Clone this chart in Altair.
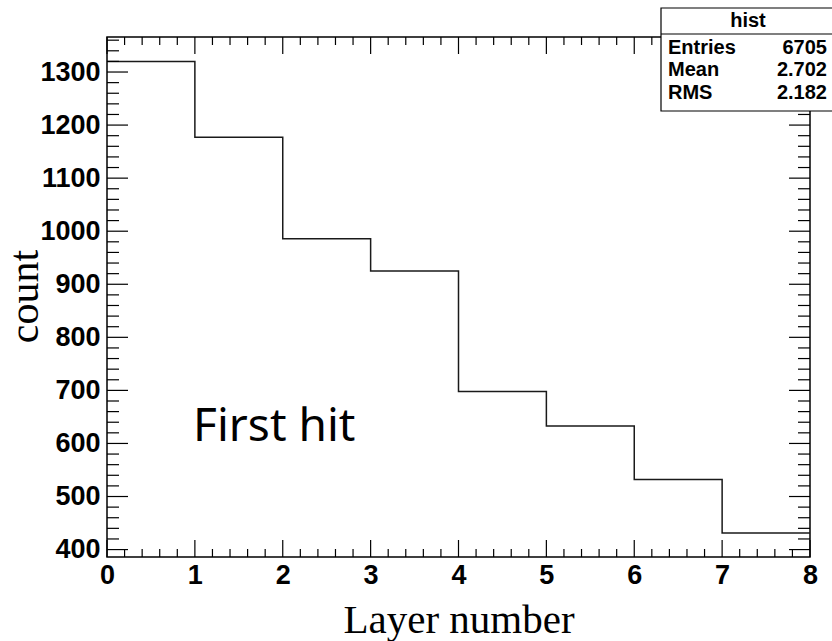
import altair as alt
import pandas as pd

# ---- data ----
layers = [0, 1, 2, 3, 4, 5, 6, 7]
counts = [1320, 1177, 986, 925, 698, 633, 532, 431]
x_labels = [0, 1, 2, 3, 4, 5, 6, 7, 8]
y_labels = [400, 500, 600, 700, 800, 900, 1000, 1100, 1200, 1300]
stat_title = "hist"
stat_names = ["Entries", "Mean", "RMS"]
stat_values = ["6705", "2.702", "2.182"]
annotation = "First hit"

W, H = 703, 520
XDOM = [0, 8]
YDOM = [386, 1366]

xs = alt.Scale(domain=XDOM, nice=False, zero=False)
ys = alt.Scale(domain=YDOM, nice=False, zero=False)

xaxis = alt.Axis(
    values=x_labels, format="d", tickSize=0, domain=False, grid=False,
    labelFont="Liberation Sans", labelFontWeight="bold", labelFontSize=27,
    labelColor="black", labelPadding=5, labelFlush=False, labelOverlap=False,
    title="Layer number", titleFont="Liberation Serif", titleFontSize=41,
    titleFontWeight="normal", titleColor="black", titleX=351.5, titleY=75,
    titleAlign="center", titleBaseline="alphabetic")
yaxis = alt.Axis(
    values=y_labels, format="d", tickSize=0, domain=False, grid=False,
    labelFont="Liberation Sans", labelFontWeight="bold", labelFontSize=27,
    labelColor="black", labelPadding=7, labelFlush=False, labelOverlap=False,
    title="count", titleFont="Liberation Serif", titleFontSize=42,
    titleFontWeight="normal", titleColor="black", titleX=-70, titleY=259,
    titleAngle=270, titleAlign="center", titleBaseline="alphabetic")

def X():
    return alt.X("x:Q", scale=xs, axis=xaxis, title="Layer number")

def Y():
    return alt.Y("y:Q", scale=ys, axis=yaxis, title="count")

# step histogram points (edges)
hist_df = pd.DataFrame({"x": layers + [8], "y": counts + [counts[-1]]})

x_minor = [round(i * 0.2, 1) for i in range(0, 41) if i % 5 != 0]
y_minor = [v for v in range(400, 1366, 20) if v % 100 != 0]
xmaj_df = pd.DataFrame({"x": x_labels})
xmin_df = pd.DataFrame({"x": x_minor})
ymaj_df = pd.DataFrame({"y": y_labels})
ymin_df = pd.DataFrame({"y": y_minor})

hist = alt.Chart(hist_df).mark_line(
    interpolate="step-after", color="#1a1a1a", strokeWidth=1.5
).encode(x=X(), y=Y())

tick_style = dict(color="black", strokeWidth=1.2)

def xticks(df, ln):
    bottom = alt.Chart(df).mark_rule(**tick_style).encode(
        x=X(), y=alt.value(H - ln), y2=alt.value(H))
    top = alt.Chart(df).mark_rule(**tick_style).encode(
        x=X(), y=alt.value(0), y2=alt.value(ln))
    return [bottom, top]

def yticks(df, ln):
    left = alt.Chart(df).mark_rule(**tick_style).encode(
        y=Y(), x=alt.value(0), x2=alt.value(ln))
    right = alt.Chart(df).mark_rule(**tick_style).encode(
        y=Y(), x=alt.value(W - ln), x2=alt.value(W))
    return [left, right]

ticks = xticks(xmaj_df, 17) + xticks(xmin_df, 8) + yticks(ymaj_df, 21) + yticks(ymin_df, 12)

text_df = pd.DataFrame({"t": [annotation], "x": [0.98], "y": [605]})
label = alt.Chart(text_df).mark_text(
    font="Noto Sans", fontSize=46, align="left", baseline="alphabetic", color="black"
).encode(x=X(), y=Y(), text="t:N")

# stats box (pixel layout relative to plot origin)
box_df = pd.DataFrame({"k": [0]})
box = alt.Chart(box_df).mark_rect(fill="white", stroke="black", strokeWidth=1.2).encode(
    x=alt.value(554), x2=alt.value(735), y=alt.value(-29), y2=alt.value(74))
divider = alt.Chart(box_df).mark_rule(color="black", strokeWidth=1.2).encode(
    x=alt.value(554), x2=alt.value(735), y=alt.value(-3))
stat_layers = [box, divider]
FS = 20
stat_layers.append(alt.Chart(pd.DataFrame({"t": [stat_title]})).mark_text(
    font="Liberation Sans", fontWeight="bold", fontSize=FS, align="center",
    baseline="alphabetic", color="black").encode(
    x=alt.value(641), y=alt.value(-10.5), text="t:N"))
for i, (n, v) in enumerate(zip(stat_names, stat_values)):
    yy = 17 + i * 22.3
    stat_layers.append(alt.Chart(pd.DataFrame({"t": [n]})).mark_text(
        font="Liberation Sans", fontWeight="bold", fontSize=FS, align="left",
        baseline="alphabetic", color="black").encode(
        x=alt.value(561), y=alt.value(yy), text="t:N"))
    stat_layers.append(alt.Chart(pd.DataFrame({"t": [v]})).mark_text(
        font="Liberation Sans", fontWeight="bold", fontSize=FS, align="right",
        baseline="alphabetic", color="black").encode(
        x=alt.value(720), y=alt.value(yy), text="t:N"))

chart = alt.layer(hist, *ticks, label, *stat_layers).properties(
    width=W, height=H,
    autosize=alt.AutoSizeParams(type="none"),
    padding={"left": 107, "top": 37, "right": 22, "bottom": 84},
    background="white",
).configure_view(stroke="black", strokeWidth=1.5)

chart.save("out.html", embed_options={"renderer": "svg", "actions": False})
